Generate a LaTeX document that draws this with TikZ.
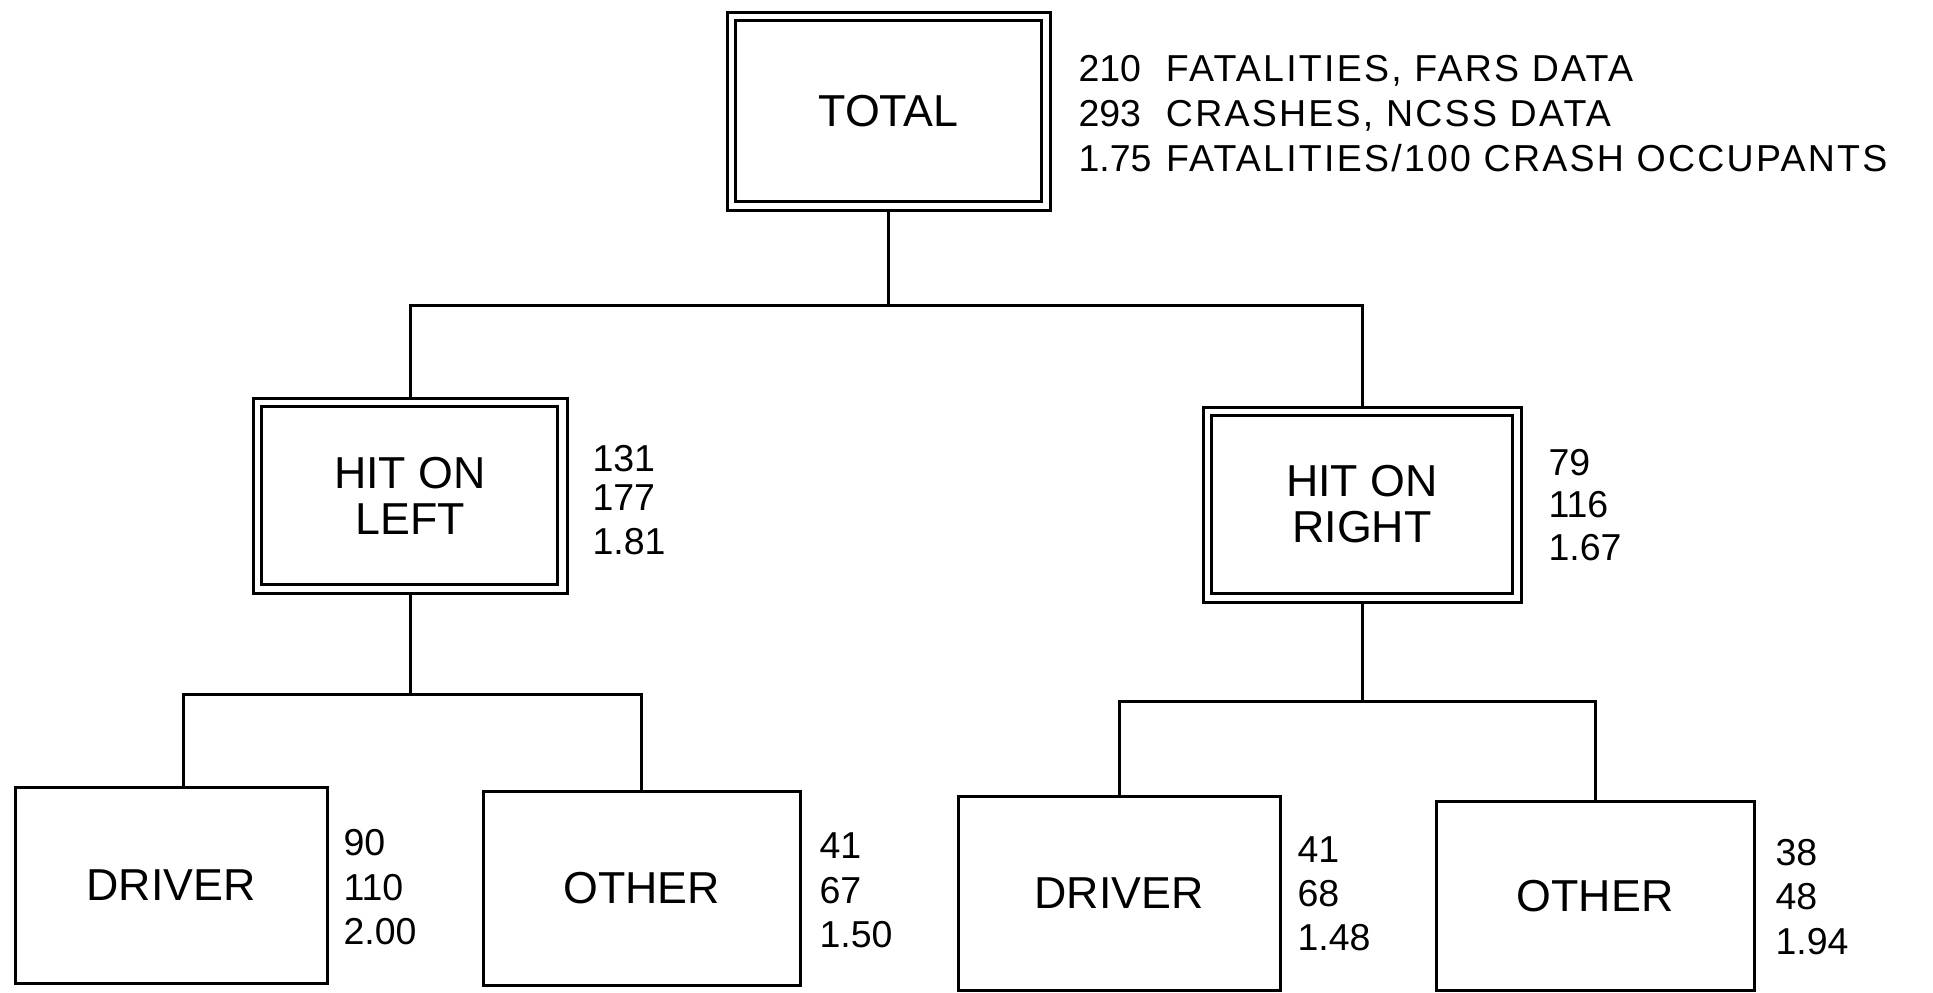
\documentclass[tikz,border=0pt]{standalone}
\usepackage{fontspec}
\setmainfont{Liberation Sans}
\newcommand\boxfont{\fontsize{17.9}{18.4}\selectfont}
\newcommand\statfont{\fontsize{15}{17}\selectfont}
\newcommand\wide[1]{{\addfontfeature{LetterSpace=6}#1}}
\begin{document}
\begin{tikzpicture}[x=0.4pt,y=-0.4pt,
  box/.style={draw, line width=1.2pt, inner sep=0pt, align=center, font=\boxfont},
  stat/.style={anchor=base west, inner sep=0pt, font=\statfont},
  conn/.style={line width=1.2pt}]
\useasboundingbox (0,0) rectangle (1933,993);

% boxes
\node[box, minimum width=323*0.4pt, minimum height=198*0.4pt] (total) at (888.5,111) {TOTAL};
\draw[conn] ([shift={(10,10)}]total.north west) rectangle ([shift={(-10,-10)}]total.south east);

\node[box, minimum width=314*0.4pt, minimum height=195*0.4pt] (hl) at (410,495.5) {HIT ON\\LEFT};
\draw[conn] ([shift={(10,10)}]hl.north west) rectangle ([shift={(-11,-10)}]hl.south east);

\node[box, minimum width=318*0.4pt, minimum height=195*0.4pt] (hr) at (1362,504.5) {HIT ON\\RIGHT};
\draw[conn] ([shift={(10,10)}]hr.north west) rectangle ([shift={(-10,-10)}]hr.south east);

\node[box, minimum width=312*0.4pt, minimum height=196*0.4pt] (dl) at (171,885) {DRIVER};
\node[box, minimum width=317*0.4pt, minimum height=194*0.4pt] (ol) at (641.5,888) {OTHER};
\node[box, minimum width=322*0.4pt, minimum height=194*0.4pt] (dr) at (1119,893) {DRIVER};
\node[box, minimum width=318*0.4pt, minimum height=189*0.4pt] (or) at (1595,896) {OTHER};

% junctions
\coordinate (j1) at (888.5,305);
\coordinate (j2) at (410,694);
\coordinate (j3) at (1362,701);

% connectors
\draw[conn] (total.south) -- (j1);
\draw[conn] (hl.north) |- (j1) -| (hr.north);
\draw[conn] (hl.south) -- (j2);
\draw[conn] ([shift={(12,0)}]dl.north) |- (j2) -| (ol.north);
\draw[conn] (hr.south) -- (j3);
\draw[conn] (dr.north) |- (j3) -| (or.north);

% statistics
\node[stat] (t1) at (1078,81) {\makebox[35pt][l]{210}\wide{FATALITIES, FARS DATA}};
\node[stat] (t2) at (1078,126) {\makebox[35pt][l]{293}\wide{CRASHES, NCSS DATA}};
\node[stat] (t3) at (1078,171) {\makebox[35pt][l]{1.75}\wide{FATALITIES/100 CRASH OCCUPANTS}};

\node[stat] (hl1) at (592,471) {131};
\node[stat] (hl2) at (592,510) {177};
\node[stat] (hl3) at (592,554) {1.81};

\node[stat] (hr1) at (1548,475) {79};
\node[stat] (hr2) at (1548,517) {116};
\node[stat] (hr3) at (1548,560) {1.67};

\node[stat] (dl1) at (343,855) {90};
\node[stat] (dl2) at (343,900) {110};
\node[stat] (dl3) at (343,944) {2.00};

\node[stat] (ol1) at (819,858) {41};
\node[stat] (ol2) at (819,903) {67};
\node[stat] (ol3) at (819,947) {1.50};

\node[stat] (dr1) at (1297,862) {41};
\node[stat] (dr2) at (1297,906) {68};
\node[stat] (dr3) at (1297,950) {1.48};

\node[stat] (or1) at (1775,865) {38};
\node[stat] (or2) at (1775,909) {48};
\node[stat] (or3) at (1775,954) {1.94};
\end{tikzpicture}
\end{document}
